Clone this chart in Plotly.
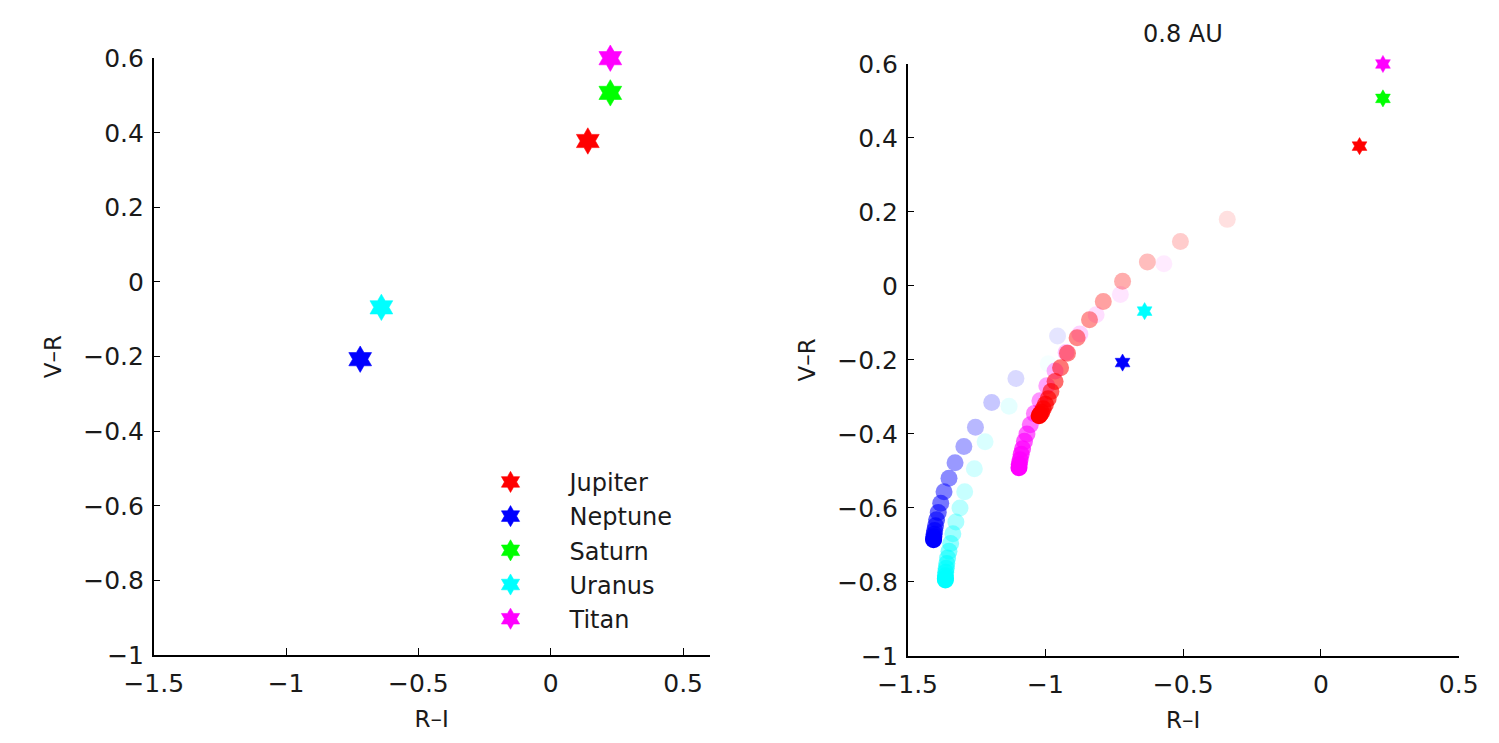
import plotly.graph_objects as go

# ---- planet colours (observed R-I, V-R) ----
planets = ["Jupiter", "Neptune", "Saturn", "Uranus", "Titan"]
colors = ["#ff0000", "#0000ff", "#00ff00", "#00ffff", "#ff00ff"]
rgb = {"Jupiter": (255, 0, 0), "Neptune": (0, 0, 255), "Saturn": (0, 255, 0),
       "Uranus": (0, 255, 255), "Titan": (255, 0, 255)}
ri_obs = [0.14, -0.72, 0.225, -0.64, 0.225]
vr_obs = [0.378, -0.207, 0.507, -0.068, 0.60]

# ---- model tracks at 0.8 AU (faint -> solid) ----
jup_ri = [-0.34, -0.51, -0.63, -0.72, -0.79, -0.84, -0.885, -0.92, -0.945, -0.965,
          -0.98, -0.99, -1.0, -1.008, -1.014, -1.019, -1.023]
jup_vr = [0.18, 0.12, 0.065, 0.013, -0.042, -0.091, -0.14, -0.182, -0.221, -0.258,
          -0.285, -0.305, -0.32, -0.332, -0.341, -0.347, -0.351]
jup_alpha = [0.12, 0.2, 0.26, 0.32, 0.37, 0.42, 0.47, 0.5, 0.54, 0.58,
             0.62, 0.66, 0.7, 0.75, 0.8, 0.88, 1.0]

nep_ri = [-0.956, -1.107, -1.195, -1.254, -1.296, -1.328, -1.35, -1.368, -1.38, -1.389,
          -1.395, -1.399, -1.402, -1.404, -1.405, -1.406, -1.406]
nep_vr = [-0.135, -0.25, -0.315, -0.382, -0.434, -0.478, -0.52, -0.556, -0.587, -0.612,
          -0.632, -0.648, -0.661, -0.671, -0.678, -0.683, -0.686]
nep_alpha = [0.1, 0.15, 0.22, 0.28, 0.34, 0.4, 0.46, 0.5, 0.54, 0.58,
             0.62, 0.66, 0.7, 0.75, 0.8, 0.88, 1.0]

ura_ri = [-0.99, -1.132, -1.219, -1.258, -1.293, -1.31, -1.325, -1.336, -1.344, -1.35,
          -1.355, -1.358, -1.36, -1.362, -1.363, -1.363, -1.363]
ura_vr = [-0.21, -0.325, -0.421, -0.494, -0.556, -0.6, -0.638, -0.67, -0.696, -0.717,
          -0.735, -0.75, -0.763, -0.774, -0.783, -0.79, -0.795]
ura_alpha = [0.04, 0.1, 0.15, 0.18, 0.22, 0.28, 0.33, 0.38, 0.43, 0.48,
             0.54, 0.6, 0.66, 0.72, 0.8, 0.88, 1.0]

tit_ri = [-0.57, -0.728, -0.816, -0.875, -0.925, -0.965, -0.995, -1.02, -1.04, -1.055,
          -1.067, -1.076, -1.083, -1.088, -1.092, -1.095, -1.096]
tit_vr = [0.06, -0.023, -0.078, -0.13, -0.18, -0.23, -0.27, -0.31, -0.345, -0.375,
          -0.4, -0.42, -0.44, -0.455, -0.47, -0.482, -0.491]
tit_alpha = [0.08, 0.1, 0.13, 0.18, 0.24, 0.3, 0.36, 0.42, 0.48, 0.54,
             0.6, 0.66, 0.72, 0.78, 0.84, 0.9, 1.0]

tracks = [("Jupiter", jup_ri, jup_vr, jup_alpha),
          ("Neptune", nep_ri, nep_vr, nep_alpha),
          ("Uranus", ura_ri, ura_vr, ura_alpha),
          ("Titan", tit_ri, tit_vr, tit_alpha)]

x_ticks = [-1.5, -1, -0.5, 0, 0.5]
y_ticks = [-1, -0.8, -0.6, -0.4, -0.2, 0, 0.2, 0.4, 0.6]
y_ticktext = ["−1", "−0.8", "−0.6", "−0.4", "−0.2", "0", "0.2", "0.4", "0.6"]

FONT = "DejaVu Sans, Liberation Sans, Arial, sans-serif"
INK = "#1a1a1a"
fig = go.Figure()

# left panel: observed colours with legend
for i, name in enumerate(planets):
    fig.add_trace(go.Scatter(
        x=[ri_obs[i]], y=[vr_obs[i]], mode="markers", name=name,
        cliponaxis=False,
        marker=dict(symbol="hexagram", size=20, color=colors[i],
                    line=dict(width=0.6, color=colors[i])),
        xaxis="x", yaxis="y"))

# right panel: model tracks, layered from faint to opaque
pts = []
for name, xs, ys, al in tracks:
    for xv, yv, av in zip(xs, ys, al):
        pts.append((av, xv, yv, name))
pts.sort(key=lambda p: p[0])
fig.add_trace(go.Scatter(
    x=[p[1] for p in pts], y=[p[2] for p in pts], mode="markers",
    showlegend=False, hoverinfo="skip",
    marker=dict(symbol="circle", size=17,
                color=["rgba(%d,%d,%d,%.3f)" % (*rgb[p[3]], p[0]) for p in pts],
                line=dict(width=0)),
    xaxis="x2", yaxis="y2"))

# right panel: observed colours
for i, name in enumerate(planets):
    fig.add_trace(go.Scatter(
        x=[ri_obs[i]], y=[vr_obs[i]], mode="markers", name=name,
        showlegend=False, cliponaxis=False,
        marker=dict(symbol="hexagram", size=13, color=colors[i],
                    line=dict(width=0.5, color=colors[i])),
        xaxis="x2", yaxis="y2"))

axis_common = dict(showline=True, linecolor="black", linewidth=1.5, mirror=False,
                   ticks="inside", ticklen=7, tickwidth=1.3, tickcolor="black",
                   showgrid=False, zeroline=False,
                   tickfont=dict(family=FONT, size=25, color=INK))
title_font = dict(family=FONT, size=23, color=INK)

fig.update_layout(
    width=1499, height=743,
    paper_bgcolor="white", plot_bgcolor="white",
    margin=dict(l=0, r=0, t=0, b=0),
    font=dict(family=FONT, color=INK),
    showlegend=True,
    legend=dict(x=0.2909, y=0.3756, xanchor="left", yanchor="top",
                bgcolor="rgba(0,0,0,0)", itemwidth=108,
                font=dict(family=FONT, size=24, color=INK)),
    xaxis=dict(domain=[0.0854, 0.469], range=[-1.5, 0.6], anchor="y",
               tickvals=x_ticks, ticklabelstandoff=5,
               title=dict(text="R–I", font=title_font, standoff=14),
               **axis_common),
    yaxis=dict(domain=[0.1023, 0.9381], range=[-1, 0.6], anchor="x",
               tickvals=y_ticks, ticktext=y_ticktext, ticklabelstandoff=3,
               title=dict(text="V–R", font=title_font, standoff=15),
               **axis_common),
    xaxis2=dict(domain=[0.6057, 0.986], range=[-1.5, 0.5], anchor="y2",
                tickvals=x_ticks, ticklabelstandoff=5,
                title=dict(text="R–I", font=title_font, standoff=14),
                **axis_common),
    yaxis2=dict(domain=[0.1009, 0.930], range=[-1, 0.6], anchor="x2",
                tickvals=y_ticks, ticktext=y_ticktext, ticklabelstandoff=3,
                title=dict(text="V–R", font=title_font, standoff=15),
                **axis_common),
    annotations=[dict(text="0.8 AU", xref="paper", yref="paper",
                      x=(0.6057 + 0.986) / 2, y=1 - 21 / 743,
                      xanchor="center", yanchor="middle", showarrow=False,
                      font=dict(family=FONT, size=24, color=INK))],
)

fig.write_html("out.html")
